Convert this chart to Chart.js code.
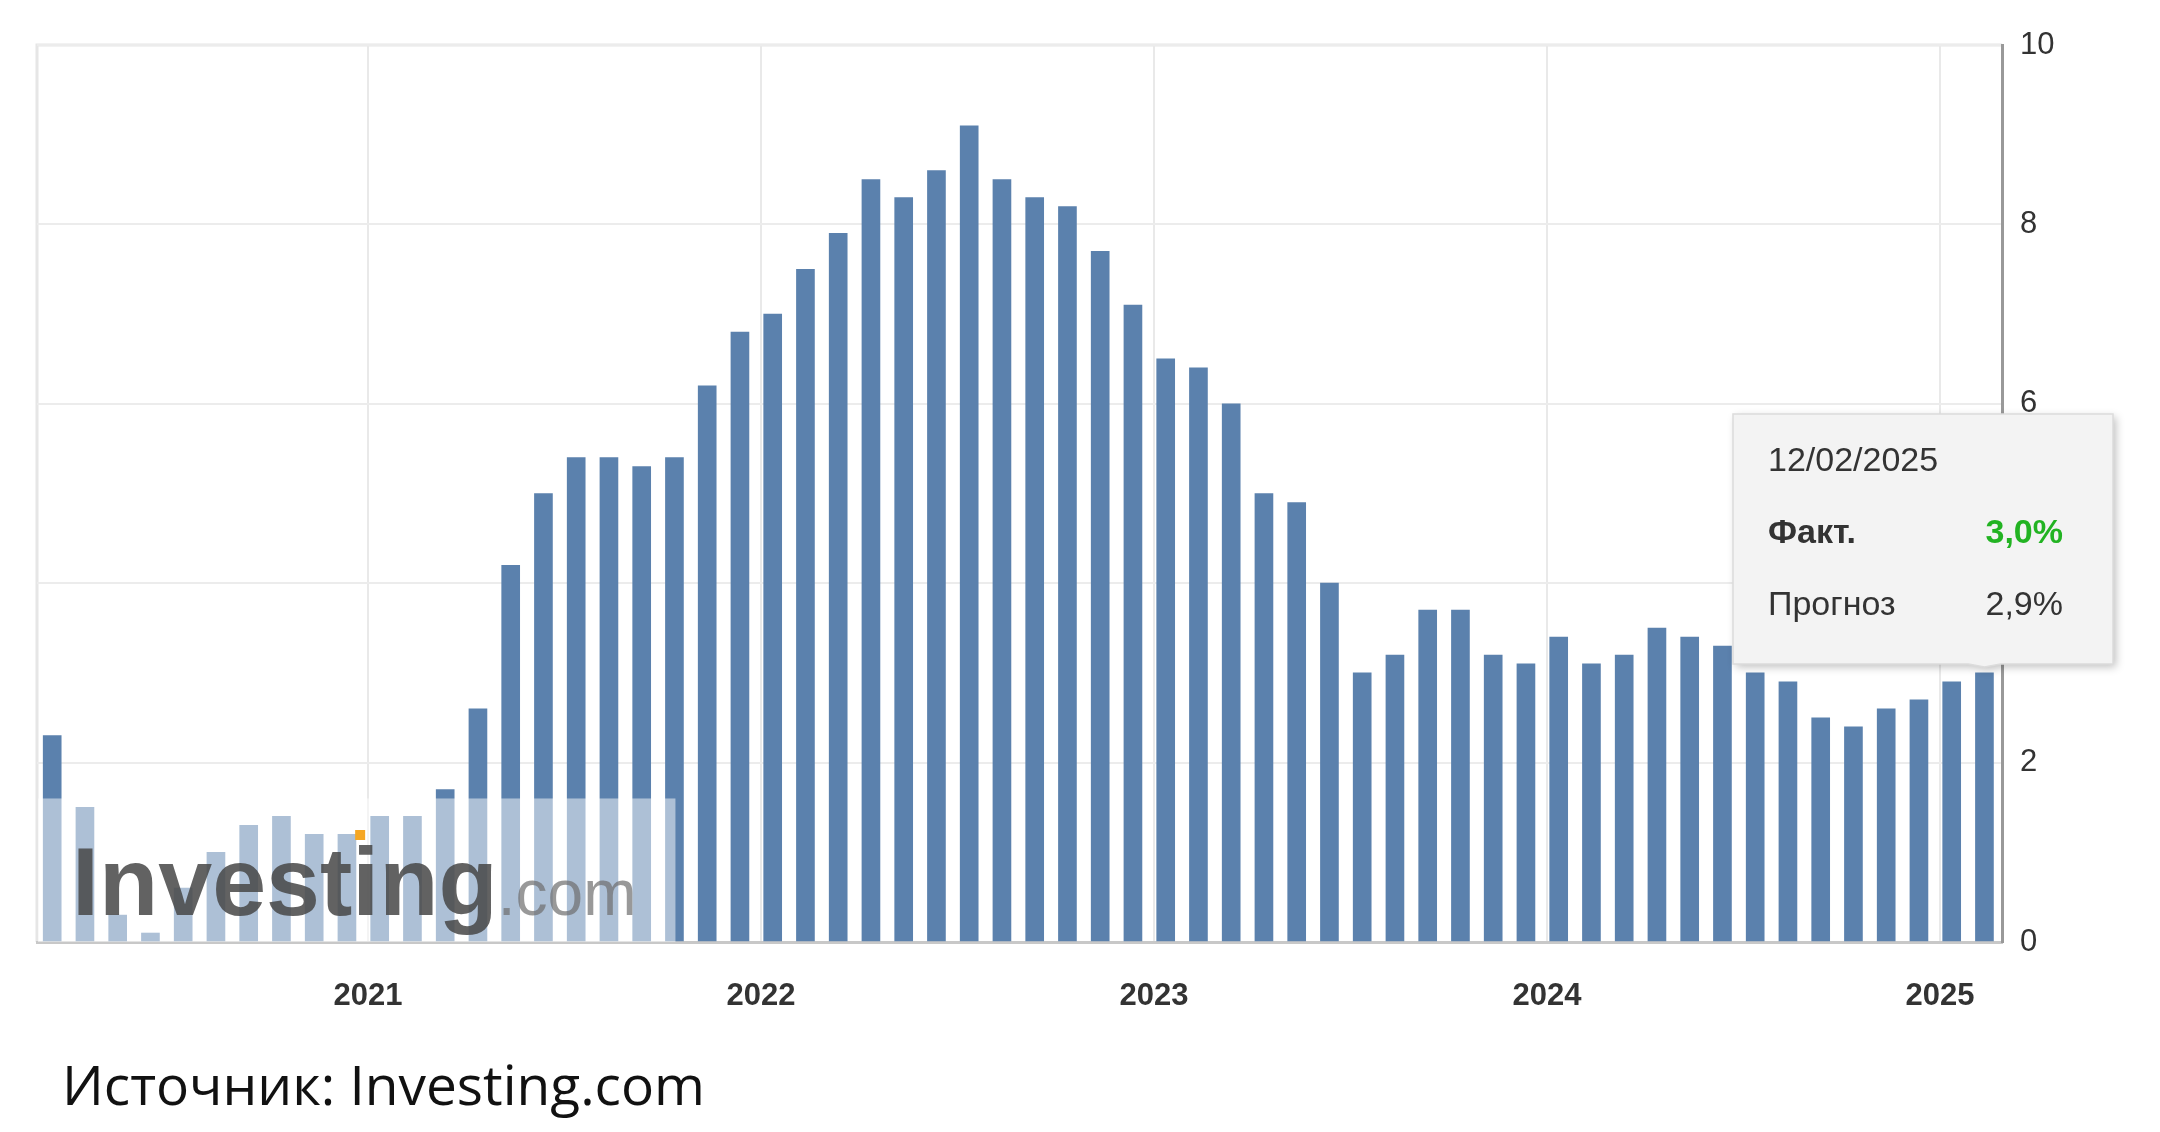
<!DOCTYPE html>
<html><head><meta charset="utf-8">
<script src="https://cdn.jsdelivr.net/npm/chart.js@4"></script>
<style>html,body{margin:0;padding:0;background:#fff}#c{display:block}</style>
</head><body>
<canvas id="c" width="2160" height="1132"></canvas>
<script>
// Release months (year, month) and CPI YoY values, %
const releaseMonths = ["2020-03","2020-04","2020-05","2020-06","2020-07","2020-08","2020-09","2020-10","2020-11","2020-12",
"2021-01","2021-02","2021-03","2021-04","2021-05","2021-06","2021-07","2021-08","2021-09","2021-10","2021-11","2021-12",
"2022-01","2022-02","2022-03","2022-04","2022-05","2022-06","2022-07","2022-08","2022-09","2022-10","2022-11","2022-12",
"2023-01","2023-02","2023-03","2023-04","2023-05","2023-06","2023-07","2023-08","2023-09","2023-10","2023-11","2023-12",
"2024-01","2024-02","2024-03","2024-04","2024-05","2024-06","2024-07","2024-08","2024-09","2024-10","2024-11","2024-12",
"2025-01","2025-02"];
const cpiValues = [2.3,1.5,0.3,0.1,0.6,1.0,1.3,1.4,1.2,1.2,
1.4,1.4,1.7,2.6,4.2,5.0,5.4,5.4,5.3,5.4,6.2,6.8,
7.0,7.5,7.9,8.5,8.3,8.6,9.1,8.5,8.3,8.2,7.7,7.1,
6.5,6.4,6.0,5.0,4.9,4.0,3.0,3.2,3.7,3.7,3.2,3.1,
3.4,3.1,3.2,3.5,3.4,3.3,3.0,2.9,2.5,2.4,2.6,2.7,
2.9,3.0];
const yearTicks = [2021,2022,2023,2024,2025];
const yTicks = [0,2,4,6,8,10];
const tooltipDate = "12/02/2025";
const tooltipRows = [["Факт.","3,0%"],["Прогноз","2,9%"]];
const sourceText = "Источник: Investing.com";

const pts = releaseMonths.map((m,i)=>{const [y,mo]=m.split("-").map(Number);return {x:y+(mo-1+0.36)/12,y:cpiValues[i]};});

const overlay = {
  id:'overlay',
  afterDatasetsDraw(chart){
    const {ctx,scales:{x,y},chartArea:a}=chart;
    ctx.save();
    ctx.fillStyle='rgba(255,255,255,0.5)';
    const wx1=x.getPixelForValue(2021.78), wy=y.getPixelForValue(1.6);
    ctx.fillRect(a.left+1,wy,wx1-a.left,a.bottom-wy);
    ctx.font='bold 97px "Liberation Sans", Arial';
    ctx.fillStyle='rgba(70,70,70,0.85)';
    ctx.textBaseline='alphabetic';
    ctx.fillText('Investing',72,915);
    const w=ctx.measureText('Investing').width;
    ctx.font='64px "Liberation Sans", Arial';
    ctx.fillStyle='rgba(110,110,110,0.7)';
    ctx.fillText('.com',72+w,915);
    ctx.fillStyle='#f5a623';
    ctx.fillRect(72+w*0.665,830,10,10);
    ctx.restore();
  },
  afterDraw(chart){
    const {ctx,scales:{x,y}}=chart;
    const last=pts[pts.length-1];
    const px=x.getPixelForValue(last.x), py=y.getPixelForValue(last.y);
    ctx.save();
    const bx=1733,by=414,bw=380,bh=250;
    ctx.shadowColor='rgba(0,0,0,0.25)';ctx.shadowBlur=8;ctx.shadowOffsetX=3;ctx.shadowOffsetY=3;
    ctx.fillStyle='#f3f3f3';
    ctx.beginPath();
    ctx.moveTo(bx,by);ctx.lineTo(bx+bw,by);ctx.lineTo(bx+bw,by+bh);
    ctx.lineTo(px+16,by+bh);ctx.lineTo(px,py-6);ctx.lineTo(px-16,by+bh);
    ctx.lineTo(bx,by+bh);ctx.closePath();ctx.fill();
    ctx.shadowColor='transparent';
    ctx.strokeStyle='#dcdcdc';ctx.lineWidth=1.5;ctx.stroke();
    ctx.textBaseline='middle';
    ctx.font='34px "Liberation Sans", Arial';ctx.fillStyle='#333';ctx.textAlign='left';
    ctx.fillText(tooltipDate,bx+35,by+48);
    ctx.font='bold 34px "Liberation Sans", Arial';
    ctx.fillText(tooltipRows[0][0],bx+35,by+120);
    ctx.textAlign='right';ctx.fillStyle='#22b322';
    ctx.fillText(tooltipRows[0][1],bx+bw-50,by+120);
    ctx.font='34px "Liberation Sans", Arial';ctx.fillStyle='#333';
    ctx.textAlign='left';ctx.fillText(tooltipRows[1][0],bx+35,by+192);
    ctx.textAlign='right';ctx.fillText(tooltipRows[1][1],bx+bw-50,by+192);
    ctx.textAlign='left';ctx.textBaseline='alphabetic';
    ctx.font='55px "Open Sans", "Noto Sans", sans-serif';ctx.fillStyle='#111';
    ctx.fillText(sourceText,62,1105);
    ctx.restore();
  }
};

new Chart(document.getElementById('c'),{
  type:'bar',
  data:{datasets:[{data:pts,backgroundColor:'#5b81ad',borderWidth:0,barThickness:18}]},
  options:{
    responsive:false,animation:false,
    layout:{padding:{left:37,top:45,right:22,bottom:0}},
    plugins:{legend:{display:false},tooltip:{enabled:false}},
    scales:{
      x:{type:'linear',min:2020.158,max:2025.158,offset:false,
        afterBuildTicks(s){s.ticks=yearTicks.map(v=>({value:v}));},
        afterFit(s){s.height=190;},
        grid:{color:'#e9e9e9',lineWidth:2,drawTicks:false,offset:false},
        border:{display:true,color:'#c8c8c8',width:3},
        ticks:{padding:36,font:{size:31,weight:'bold',family:'"Liberation Sans", Arial'},color:'#333',callback:v=>String(v),maxRotation:0}},
      y:{position:'right',min:0,max:10,
        afterBuildTicks(s){s.ticks=yTicks.map(v=>({value:v}));},
        afterFit(s){s.width=136;},
        grid:{color:'#ececec',lineWidth:2,drawTicks:false},
        border:{display:true,color:'#999',width:3},
        ticks:{padding:18,font:{size:31,family:'"Liberation Sans", Arial'},color:'#333'}}
    }
  },
  plugins:[overlay,{id:'frame',beforeDraw(chart){const {ctx,chartArea:a}=chart;ctx.save();ctx.strokeStyle='#e6e6e6';ctx.lineWidth=3;ctx.beginPath();ctx.moveTo(a.left,a.bottom);ctx.lineTo(a.left,a.top);ctx.lineTo(a.right,a.top);ctx.stroke();ctx.restore();}}]
});
</script>
</body></html>
